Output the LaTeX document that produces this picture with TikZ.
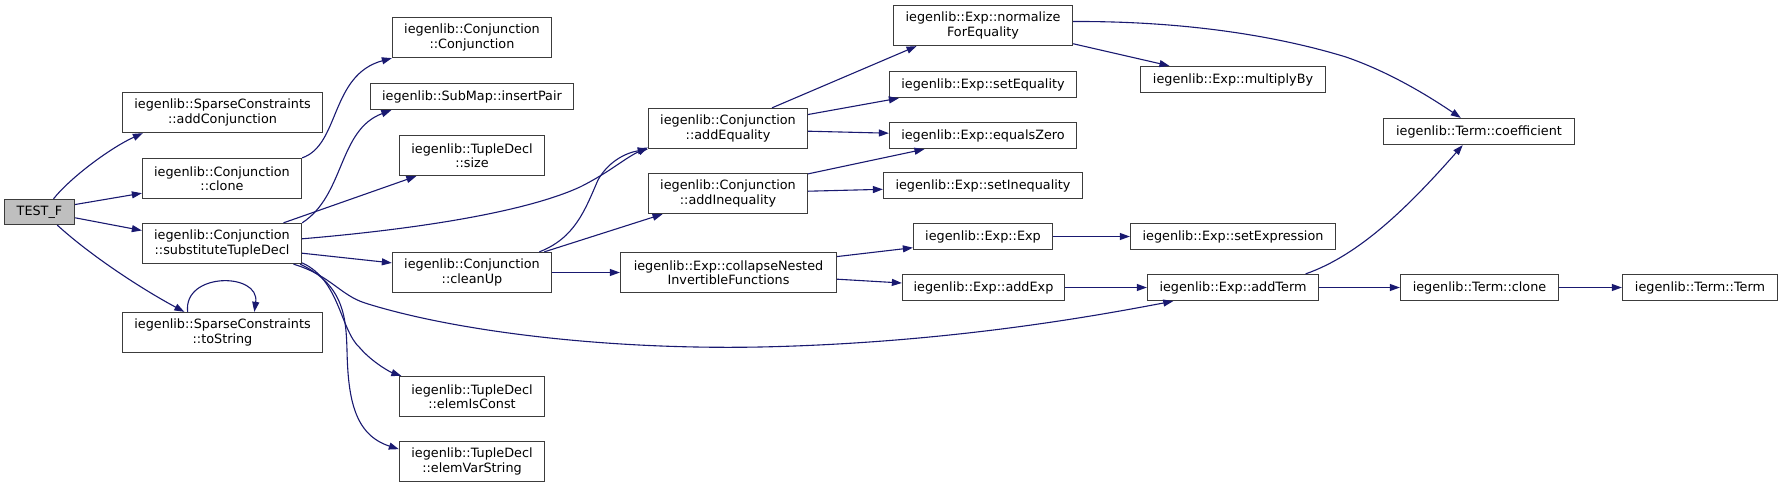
\documentclass[tikz,border=0pt]{standalone}
\usepackage{fontspec}
\setmainfont{DejaVu Sans}
\usetikzlibrary{arrows.meta,calc}
\definecolor{edgec}{HTML}{191970}
\definecolor{boxc}{HTML}{3C3C3C}
\definecolor{hlc}{HTML}{BFBFBF}
\tikzset{
  box/.style={draw=boxc, line width=1.3pt, fill=white, inner sep=0pt, align=center,
    font=\fontsize{12.8}{14.5}\selectfont},
  edge/.style={draw=edgec, line width=1.1pt, -{Triangle[length=10pt,width=7pt]}},
}
\begin{document}
\begin{tikzpicture}[x=1pt,y=1pt]
\useasboundingbox (0,0) rectangle (1783,-488);
% nodes
\node[box, fill=hlc, minimum width=70pt, minimum height=25pt] (testf) at (39.5,-212) {TEST\_F};
\node[box, minimum width=200pt, minimum height=40pt] (scadd) at (222.5,-112.5) {iegenlib::SparseConstraints\\::addConjunction};
\node[box, minimum width=159pt, minimum height=40pt] (cclone) at (222,-178.5) {iegenlib::Conjunction\\::clone};
\node[box, minimum width=159pt, minimum height=40pt] (csubst) at (222,-243.5) {iegenlib::Conjunction\\::substituteTupleDecl};
\node[box, minimum width=200pt, minimum height=40pt] (sctostr) at (222.5,-332.5) {iegenlib::SparseConstraints\\::toString};
\node[box, minimum width=159pt, minimum height=40pt] (cconj) at (472,-37.5) {iegenlib::Conjunction\\::Conjunction};
\node[box, minimum width=203pt, minimum height=26pt] (insertpair) at (472,-96.5) {iegenlib::SubMap::insertPair};
\node[box, minimum width=145pt, minimum height=40pt] (tsize) at (472,-155.5) {iegenlib::TupleDecl\\::size};
\node[box, minimum width=159pt, minimum height=40pt] (ccleanup) at (472,-272.5) {iegenlib::Conjunction\\::cleanUp};
\node[box, minimum width=145pt, minimum height=40pt] (telemconst) at (472,-396.5) {iegenlib::TupleDecl\\::elemIsConst};
\node[box, minimum width=145pt, minimum height=40pt] (telemvar) at (472,-461.5) {iegenlib::TupleDecl\\::elemVarString};
\node[box, minimum width=159pt, minimum height=40pt] (caddeq) at (728,-128.5) {iegenlib::Conjunction\\::addEquality};
\node[box, minimum width=159pt, minimum height=40pt] (caddineq) at (728,-193.5) {iegenlib::Conjunction\\::addInequality};
\node[box, minimum width=216pt, minimum height=40pt] (collapse) at (728.5,-272.5) {iegenlib::Exp::collapseNested\\InvertibleFunctions};
\node[box, minimum width=179pt, minimum height=40pt] (normeq) at (983,-25.5) {iegenlib::Exp::normalize\\ForEquality};
\node[box, minimum width=187pt, minimum height=26pt] (seteq) at (983,-84.5) {iegenlib::Exp::setEquality};
\node[box, minimum width=187pt, minimum height=26pt] (eqzero) at (983,-135.5) {iegenlib::Exp::equalsZero};
\node[box, minimum width=199pt, minimum height=26pt] (setineq) at (983,-185.5) {iegenlib::Exp::setInequality};
\node[box, minimum width=139pt, minimum height=26pt] (expexp) at (983,-236.5) {iegenlib::Exp::Exp};
\node[box, minimum width=162pt, minimum height=26pt] (addexp) at (983.5,-287.5) {iegenlib::Exp::addExp};
\node[box, minimum width=185pt, minimum height=26pt] (multby) at (1233,-79.5) {iegenlib::Exp::multiplyBy};
\node[box, minimum width=205pt, minimum height=26pt] (setexpr) at (1233,-236.5) {iegenlib::Exp::setExpression};
\node[box, minimum width=171pt, minimum height=26pt] (addterm) at (1233,-287.5) {iegenlib::Exp::addTerm};
\node[box, minimum width=191pt, minimum height=26pt] (tcoef) at (1479,-131.5) {iegenlib::Term::coefficient};
\node[box, minimum width=158pt, minimum height=26pt] (tclone) at (1479.5,-287.5) {iegenlib::Term::clone};
\node[box, minimum width=155pt, minimum height=26pt] (tterm) at (1700,-287.5) {iegenlib::Term::Term};
% edges
\draw[edge] ($(testf.north)+(14,0)$) .. controls (70,-178) and (110,-148) .. ($(scadd.south west)+(21,0)$);
\draw[edge] ($(testf.east)+(0,7.5)$) -- ($(cclone.west)+(0,-14.7)$);
\draw[edge] ($(testf.east)+(0,-5.8)$) -- ($(csubst.west)+(0,13)$);
\draw[edge] ($(testf.south)+(17.8,0)$) .. controls (90,-255) and (140,-288) .. ($(sctostr.north west)+(62.5,0)$);
\draw[edge] (cclone.north east) .. controls (340,-145) and (330,-75) .. (cconj.south west);
\draw[edge] (csubst.north east) .. controls (345,-195) and (338,-130) .. ($(insertpair.south west)+(21.5,0)$);
\draw[edge] ($(csubst.north east)+(-18.7,0)$) -- ($(tsize.south west)+(17.5,0)$);
\draw[edge] ($(csubst.east)+(0,4.7)$) .. controls (430,-228) and (530,-210) .. (580,-187) .. controls (610,-172) and (625,-158) .. ($(caddeq.south west)+(0,1.7)$);
\draw[edge] ($(ccleanup.north east)+(-12.8,0)$) .. controls (575,-238) and (585,-210) .. (598,-180) .. controls (608,-162) and (625,-153) .. (caddeq.south west);
\draw[edge] ($(ccleanup.north east)+(-7.8,0)$) -- ($(caddineq.south west)+(14.7,0)$);
\draw[edge] ($(csubst.east)+(0,-9.7)$) -- ($(ccleanup.west)+(0,9.6)$);
\draw[edge] (ccleanup.east) -- (collapse.west);
\draw[edge] ($(csubst.south east)+(0,1.3)$) .. controls (340,-280) and (340,-330) .. (360,-348) .. controls (372,-362) and (390,-372) .. ($(telemconst.north west)+(2.5,0)$);
\draw[edge] ($(csubst.south east)+(-2,0)$) .. controls (345,-285) and (346,-320) .. (347,-350) .. controls (348,-400) and (355,-435) .. ($(telemvar.north west)+(0,-8.3)$);
\draw[edge] ($(csubst.south east)+(-8.7,0)$) .. controls (330,-275) and (340,-295) .. (365,-303) .. controls (450,-330) and (600,-350) .. (760,-347) .. controls (950,-343) and (1100,-315) .. ($(addterm.south west)+(26.4,0)$);
\draw[edge] ($(caddeq.north)+(44,0)$) -- ($(normeq.south west)+(23.7,0)$);
\draw[edge] ($(caddeq.east)+(0,14)$) -- ($(seteq.south west)+(10,0)$);
\draw[edge] ($(caddeq.east)+(0,-2.7)$) -- ($(eqzero.west)+(0,2.3)$);
\draw[edge] ($(caddineq.north east)+(0,-1)$) -- ($(eqzero.south west)+(35.6,0)$);
\draw[edge] ($(caddineq.east)+(0,2.3)$) -- ($(setineq.west)+(0,-3.8)$);
\draw[edge] ($(collapse.north east)+(0,-4.7)$) -- ($(expexp.west)+(0,-11.2)$);
\draw[edge] ($(collapse.east)+(0,-6.7)$) -- ($(addexp.west)+(0,4.5)$);
\draw[edge] ($(normeq.south east)+(0,2.4)$) -- ($(multby.north west)+(29.6,0)$);
\draw[edge] ($(normeq.east)+(0,4)$) .. controls (1200,-21) and (1290,-40) .. (1345,-56.7) .. controls (1390,-72) and (1430,-97) .. ($(tcoef.north)+(-18.2,0)$);
\draw[edge] (expexp.east) -- (setexpr.west);
\draw[edge] (addexp.east) -- (addterm.west);
\draw[edge] ($(addterm.north east)+(-13.5,0)$) .. controls (1360,-255) and (1410,-205) .. ($(tcoef.south)+(-16.3,0)$);
\draw[edge] (addterm.east) -- (tclone.west);
\draw[edge] (tclone.east) -- (tterm.west);
\draw[edge] ($(sctostr.north west)+(65.8,0)$) .. controls (183,-272) and (260,-272) .. ($(sctostr.north west)+(132.5,0)$);
\end{tikzpicture}
\end{document}
